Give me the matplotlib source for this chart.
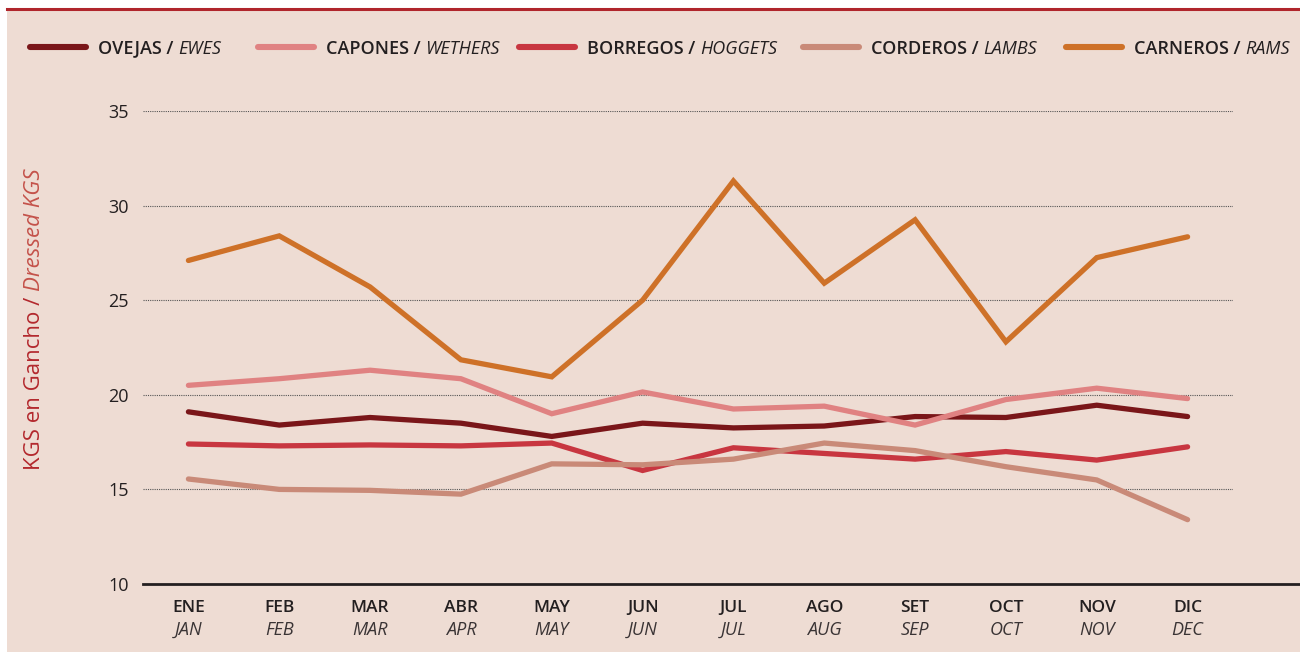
import numpy as np
import matplotlib
matplotlib.use("Agg")
import matplotlib.pyplot as plt
from matplotlib.lines import Line2D

# data
meses = ["ENE", "FEB", "MAR", "ABR", "MAY", "JUN", "JUL", "AGO", "SET", "OCT", "NOV", "DIC"]
months = ["JAN", "FEB", "MAR", "APR", "MAY", "JUN", "JUL", "AUG", "SEP", "OCT", "NOV", "DEC"]

ovejas = [19.1, 18.4, 18.8, 18.5, 17.8, 18.5, 18.25, 18.35, 18.85, 18.8, 19.45, 18.85]
capones = [20.5, 20.85, 21.3, 20.85, 19.0, 20.15, 19.25, 19.4, 18.4, 19.75, 20.35, 19.8]
borregos = [17.4, 17.3, 17.35, 17.3, 17.45, 16.0, 17.2, 16.9, 16.6, 17.0, 16.55, 17.25]
corderos = [15.55, 15.0, 14.95, 14.75, 16.35, 16.3, 16.6, 17.45, 17.05, 16.2, 15.5, 13.4]
carneros = [27.1, 28.4, 25.7, 21.85, 20.95, 25.0, 31.3, 25.9, 29.25, 22.8, 27.25, 28.35]

series_es = ["OVEJAS", "CAPONES", "BORREGOS", "CORDEROS", "CARNEROS"]
series_en = ["EWES", "WETHERS", "HOGGETS", "LAMBS", "RAMS"]
colors = ["#7A1619", "#E08282", "#C83640", "#C98A78", "#CE7128"]

BG = "#EEDCD3"
DARK = "#231F20"
FONT = "Open Sans"

plt.rcParams["font.family"] = [FONT, "DejaVu Sans"]

W, H = 1300, 652
fig = plt.figure(figsize=(W / 100, H / 100), dpi=100)
fig.patch.set_facecolor("white")

# beige panel and red top rule
fig.add_artist(plt.Rectangle((7 / W, 0), 1, 1 - 10 / H, transform=fig.transFigure,
                             facecolor=BG, edgecolor="none", zorder=-10))
fig.add_artist(Line2D([7 / W, 1], [1 - 8.5 / H, 1 - 8.5 / H], transform=fig.transFigure,
                      color="#B0262C", lw=2.2))

ax = fig.add_axes([143 / W, 1 - 584 / H, (1233 - 143) / W, (584 - 111) / H])
ax.set_facecolor("none")

x = np.arange(len(meses))
all_series = [ovejas, capones, borregos, corderos, carneros]
for vals, c in zip(all_series, colors):
    ax.plot(x, vals, color=c, lw=3.8, solid_capstyle="round", solid_joinstyle="miter", zorder=3)

ax.set_xlim(-0.5, 11.5)
ax.set_ylim(10, 35)
ax.set_yticks([10, 15, 20, 25, 30, 35])
for yv in [15, 20, 25, 30, 35]:
    ax.axhline(yv, color="#555555", lw=0.8, ls=(0, (1, 1)), zorder=1)

for s in ["top", "right", "left", "bottom"]:
    ax.spines[s].set_visible(False)
# bottom axis line runs to the right edge
fig.add_artist(Line2D([143 / W, 1], [1 - 584 / H, 1 - 584 / H], transform=fig.transFigure,
                      color=DARK, lw=2.0))

ax.tick_params(axis="both", length=0)
ax.tick_params(axis="y", labelsize=13, labelcolor=DARK, pad=10)
ax.set_xticks([])

for i, (m1, m2) in enumerate(zip(meses, months)):
    ax.text(i, -0.05, m1, transform=ax.get_xaxis_transform(), ha="center", va="center",
            fontsize=12.5, fontweight="semibold", color=DARK)
    ax.text(i, -0.097, m2, transform=ax.get_xaxis_transform(), ha="center", va="center",
            fontsize=13, style="italic", fontweight="normal", color="#3a3435")

renderer = fig.canvas.get_renderer()


def pieces_h(x0, y0, pieces, size=12):
    # place text parts one after another, left to right (figure pixels)
    xp = x0
    for s, st, wt, col in pieces:
        t = fig.text(xp / W, 1 - y0 / H, s, fontsize=size, style=st, fontweight=wt,
                     color=col, ha="left", va="center")
        xp += t.get_window_extent(renderer).width
    return xp


def pieces_v(x0, y0, pieces, size=16):
    # rotated parts, bottom to top
    yp = y0
    for s, st, wt, col in pieces:
        t = fig.text(x0 / W, 1 - yp / H, s, fontsize=size, style=st, fontweight=wt,
                     color=col, rotation=90, ha="center", va="bottom")
        yp -= t.get_window_extent(renderer).height
    return yp


# legend
handle_x = [30, 258, 519, 803, 1066]
for hx, es, en, c in zip(handle_x, series_es, series_en, colors):
    fig.add_artist(Line2D([hx / W, (hx + 56) / W], [1 - 47 / H, 1 - 47 / H],
                          transform=fig.transFigure, color=c, lw=4.4, solid_capstyle="round"))
    pieces_h(hx + 68, 48.5, [(es + " / ", "normal", "semibold", DARK),
                             (en, "italic", "normal", DARK)], size=13)

pieces_v(35, 470, [("KGS en Gancho / ", "normal", "normal", "#B3282D"),
                   ("Dressed KGS", "italic", "normal", "#C4524A")], size=16)

fig.savefig("out.png", dpi=100, facecolor=fig.get_facecolor())
